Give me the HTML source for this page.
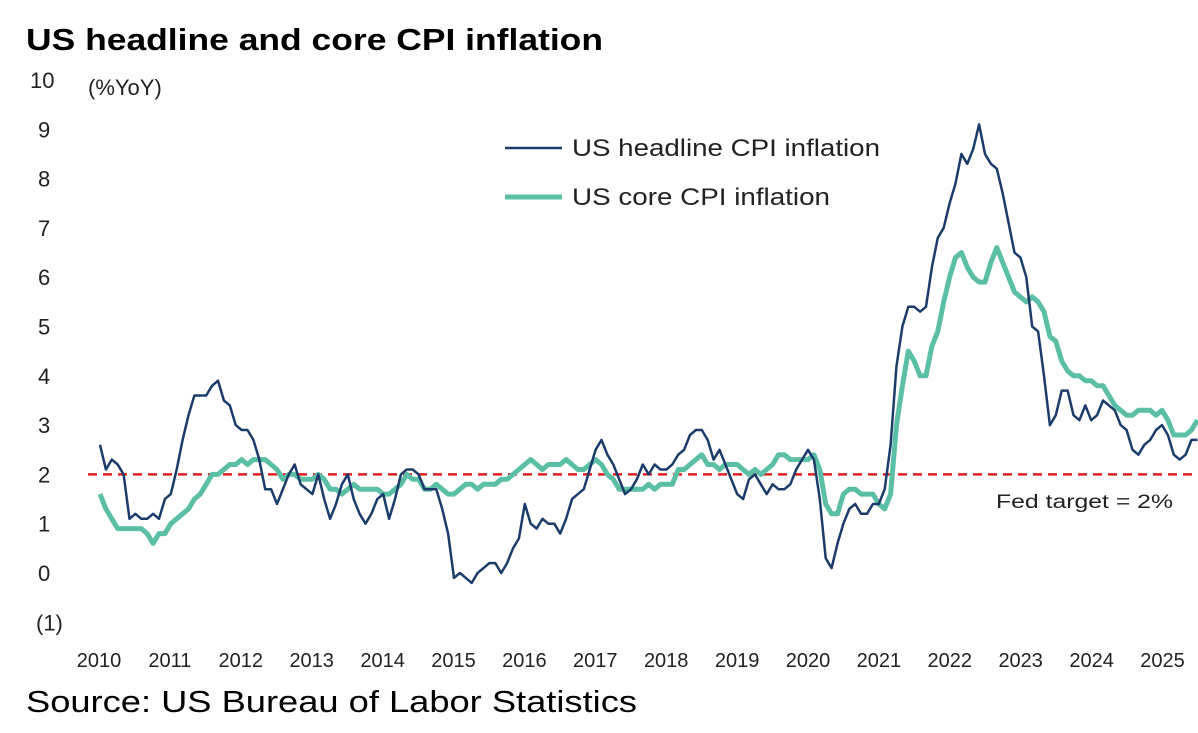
<!DOCTYPE html>
<html><head><meta charset="utf-8"><style>
body{margin:0;background:#fff;}
svg{display:block;font-family:"Liberation Sans",Arial,sans-serif;}
</style></head><body>
<svg id="chart" width="1198" height="733">
<text x="26" y="50" font-size="31" font-weight="bold" fill="#000" textLength="577" lengthAdjust="spacingAndGlyphs">US headline and core CPI inflation</text>
<text x="88" y="95" font-size="22" fill="#222">(%YoY)</text>
<g id="yticks"></g><g id="xticks"></g>
<line id="target" x1="88" x2="1198" stroke="#e02020" stroke-width="2.5" stroke-dasharray="9,6"/>
<text x="996" y="508" font-size="19" fill="#222" textLength="177" lengthAdjust="spacingAndGlyphs">Fed target = 2%</text>
<path id="core" fill="none" stroke="#5bbfa6" stroke-width="5" stroke-linejoin="round"/>
<path id="head" fill="none" stroke="#1b3c6b" stroke-width="2.5" stroke-linejoin="round"/>
<g>
<line x1="505" x2="562" y1="148" y2="148" stroke="#1b3c6b" stroke-width="2.5"/>
<text x="572" y="156" font-size="24" fill="#222" textLength="308" lengthAdjust="spacingAndGlyphs">US headline CPI inflation</text>
<line x1="505" x2="562" y1="197" y2="197" stroke="#5bbfa6" stroke-width="5"/>
<text x="572" y="205" font-size="24" fill="#222" textLength="258" lengthAdjust="spacingAndGlyphs">US core CPI inflation</text>
</g>
<text x="26" y="712" font-size="31" fill="#000" textLength="611" lengthAdjust="spacingAndGlyphs">Source: US Bureau of Labor Statistics</text>
</svg>
<script>
const yTicks=[10,9,8,7,6,5,4,3,2,1,0,-1];
const xYears=[2010,2011,2012,2013,2014,2015,2016,2017,2018,2019,2020,2021,2022,2023,2024,2025];
const targetValue=2;
const headline=[2.6,2.1,2.3,2.2,2.0,1.1,1.2,1.1,1.1,1.2,1.1,1.5,
1.6,2.1,2.7,3.2,3.6,3.6,3.6,3.8,3.9,3.5,3.4,3.0,
2.9,2.9,2.7,2.3,1.7,1.7,1.4,1.7,2.0,2.2,1.8,1.7,
1.6,2.0,1.5,1.1,1.4,1.8,2.0,1.5,1.2,1.0,1.2,1.5,
1.6,1.1,1.5,2.0,2.1,2.1,2.0,1.7,1.7,1.7,1.3,0.8,
-0.1,0.0,-0.1,-0.2,0.0,0.1,0.2,0.2,0.0,0.2,0.5,0.7,
1.4,1.0,0.9,1.1,1.0,1.0,0.8,1.1,1.5,1.6,1.7,2.1,
2.5,2.7,2.4,2.2,1.9,1.6,1.7,1.9,2.2,2.0,2.2,2.1,
2.1,2.2,2.4,2.5,2.8,2.9,2.9,2.7,2.3,2.5,2.2,1.9,
1.6,1.5,1.9,2.0,1.8,1.6,1.8,1.7,1.7,1.8,2.1,2.3,
2.5,2.3,1.5,0.3,0.1,0.6,1.0,1.3,1.4,1.2,1.2,1.4,
1.4,1.7,2.6,4.2,5.0,5.4,5.4,5.3,5.4,6.2,6.8,7.0,
7.5,7.9,8.5,8.3,8.6,9.1,8.5,8.3,8.2,7.7,7.1,6.5,
6.4,6.0,5.0,4.9,4.0,3.0,3.2,3.7,3.7,3.2,3.1,3.4,
3.1,3.2,3.5,3.4,3.3,3.0,2.9,2.5,2.4,2.6,2.7,2.9,
3.0,2.8,2.4,2.3,2.4,2.7,2.7];
const core=[1.6,1.3,1.1,0.9,0.9,0.9,0.9,0.9,0.8,0.6,0.8,0.8,
1.0,1.1,1.2,1.3,1.5,1.6,1.8,2.0,2.0,2.1,2.2,2.2,
2.3,2.2,2.3,2.3,2.3,2.2,2.1,1.9,2.0,2.0,1.9,1.9,
1.9,2.0,1.9,1.7,1.7,1.6,1.7,1.8,1.7,1.7,1.7,1.7,
1.6,1.6,1.7,1.8,2.0,1.9,1.9,1.7,1.7,1.8,1.7,1.6,
1.6,1.7,1.8,1.8,1.7,1.8,1.8,1.8,1.9,1.9,2.0,2.1,
2.2,2.3,2.2,2.1,2.2,2.2,2.2,2.3,2.2,2.1,2.1,2.2,
2.3,2.2,2.0,1.9,1.7,1.7,1.7,1.7,1.7,1.8,1.7,1.8,
1.8,1.8,2.1,2.1,2.2,2.3,2.4,2.2,2.2,2.1,2.2,2.2,
2.2,2.1,2.0,2.1,2.0,2.1,2.2,2.4,2.4,2.3,2.3,2.3,
2.3,2.4,2.1,1.4,1.2,1.2,1.6,1.7,1.7,1.6,1.6,1.6,
1.4,1.3,1.6,3.0,3.8,4.5,4.3,4.0,4.0,4.6,4.9,5.5,
6.0,6.4,6.5,6.2,6.0,5.9,5.9,6.3,6.6,6.3,6.0,5.7,
5.6,5.5,5.6,5.5,5.3,4.8,4.7,4.3,4.1,4.0,4.0,3.9,
3.9,3.8,3.8,3.6,3.4,3.3,3.2,3.2,3.3,3.3,3.3,3.2,
3.3,3.1,2.8,2.8,2.8,2.9,3.1];
const NS="http://www.w3.org/2000/svg";
const yScale=v=>573-v*49.3;
const xScale=m=>100+m*5.9;
const yearX=y=>99+(y-2010)*70.9;
function mk(tag,attrs,parent){const e=document.createElementNS(NS,tag);for(const k in attrs)e.setAttribute(k,attrs[k]);parent.appendChild(e);return e;}
const yg=document.getElementById('yticks');
yTicks.forEach(v=>{const t=mk('text',{x:v===10?30:(v<0?36:38),y:yScale(v)+8,'font-size':22,fill:'#222'},yg);


t.textContent=v<0?'('+(-v)+')':String(v);});
const xg=document.getElementById('xticks');
xYears.forEach(y=>{const t=mk('text',{x:yearX(y),y:667,'font-size':20,fill:'#222','text-anchor':'middle'},xg);


t.textContent=y;});
const tl=document.getElementById('target');tl.setAttribute('y1',yScale(targetValue));tl.setAttribute('y2',yScale(targetValue));
const path=a=>a.map((v,i)=>(i?'L':'M')+xScale(i).toFixed(1)+','+yScale(v).toFixed(1)).join('');
document.getElementById('head').setAttribute('d',path(headline));
document.getElementById('core').setAttribute('d',path(core));
</script>
</body></html>
